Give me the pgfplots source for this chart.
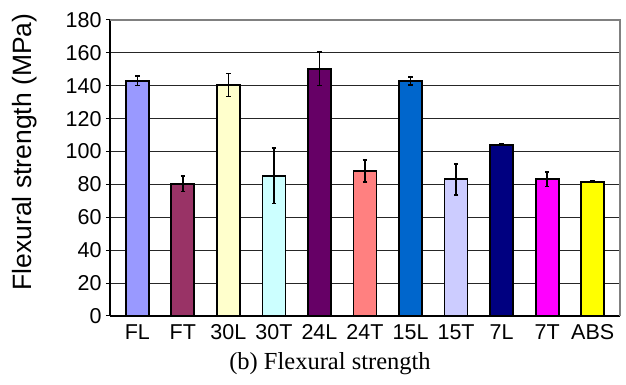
\documentclass[border=0pt]{standalone}
\usepackage{pgfplots}
\pgfplotsset{compat=1.18}
\usepackage{fontspec}
\setmainfont{Liberation Serif}
\newfontfamily\arial{Liberation Sans}
\definecolor{cFL}{HTML}{9999FF}
\definecolor{cFT}{HTML}{993366}
\definecolor{c30L}{HTML}{FFFFCC}
\definecolor{c30T}{HTML}{CCFFFF}
\definecolor{c24L}{HTML}{660066}
\definecolor{c24T}{HTML}{FF8080}
\definecolor{c15L}{HTML}{0066CC}
\definecolor{c15T}{HTML}{CCCCFF}
\definecolor{c7L}{HTML}{000080}
\definecolor{c7T}{HTML}{FF00FF}
\definecolor{cABS}{HTML}{FFFF00}
\pgfplotsset{eb/.style={draw=black, line width=1.8pt,
    error bars/y dir=both, error bars/y explicit,
    error bars/error bar style={line width=1.6pt, black},
    error bars/error mark options={rotate=90, mark size=2.3pt, line width=1.6pt, black}}}
\begin{document}
\begin{tikzpicture}[x=1pt,y=1pt]
\useasboundingbox (-110,-69) rectangle (516,316);
\begin{axis}[
  at={(0,0)}, anchor=south west,
  scale only axis, width=510pt, height=296pt,
  ymin=0, ymax=180, ytick={0,20,...,180},
  xmin=-0.6, xmax=10.6,
  xtick={0,...,10},
  xticklabels={FL,FT,30L,30T,24L,24T,15L,15T,7L,7T,ABS},
  ybar, bar width=23pt, bar shift=0pt,
  axis lines*=left,
  axis line style={black, line width=1.3pt},
  ymajorgrids, grid style={black!85, line width=1pt},
  x tick style={draw=none},
  y tick style={black, line width=1pt},
  tick align=outside, major tick length=4pt,
  /pgf/number format/assume math mode=true,
  tick label style={font=\arial\fontsize{21.5}{24}\selectfont},
  yticklabel style={xshift=-1pt},
  xticklabel style={yshift=-1pt},
  clip=false,
]
\draw[gray, line width=1.2pt] (rel axis cs:0,1) -- (rel axis cs:1,1) -- (rel axis cs:1,0);
\addplot[eb, fill=cFL] coordinates {(0,143.1) +- (0,3)};
\addplot[eb, fill=cFT] coordinates {(1,80.5) +- (0,4.8)};
\addplot[eb, fill=c30L] coordinates {(2,140.5) +- (0,7)};
\addplot[eb, fill=c30T] coordinates {(3,85.3) +- (0,17)};
\addplot[eb, fill=c24L] coordinates {(4,150.4) +- (0,10.3)};
\addplot[eb, fill=c24T] coordinates {(5,88.2) +- (0,6.7)};
\addplot[eb, fill=c15L] coordinates {(6,143) +- (0,2.4)};
\addplot[eb, fill=c15T] coordinates {(7,83.1) +- (0,9.5)};
\addplot[eb, fill=c7L] coordinates {(8,104.2) +- (0,0.5)};
\addplot[eb, fill=c7T] coordinates {(9,83.1) +- (0,4.3)};
\addplot[eb, fill=cABS] coordinates {(10,81.7) +- (0,0.5)};
\end{axis}
\node[rotate=90, font=\arial\fontsize{26.5}{30}\selectfont] at (-85,164) {Flexural strength (MPa)};
\node[anchor=base, font=\fontsize{24.5}{28}\selectfont] at (220,-54) {(b) Flexural strength};
\end{tikzpicture}
\end{document}
